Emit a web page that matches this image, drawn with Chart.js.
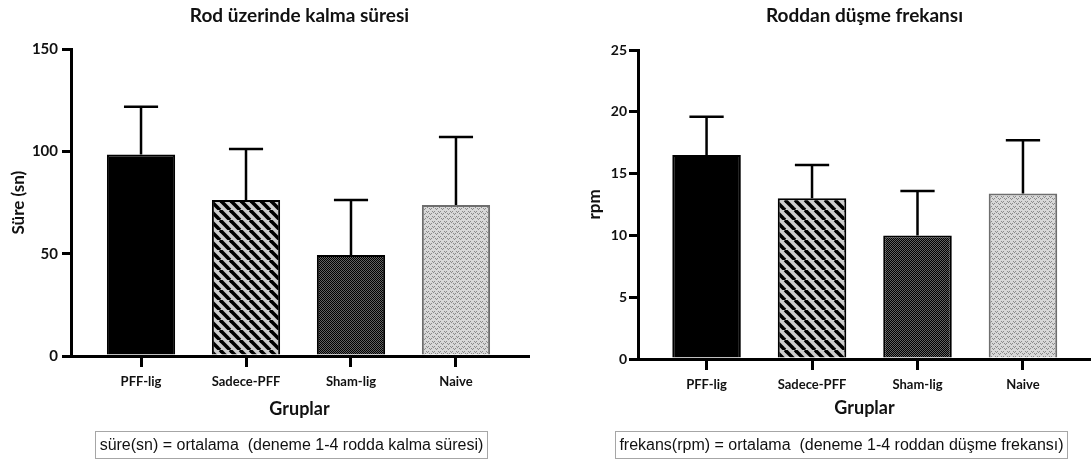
<!DOCTYPE html>
<html lang="tr">
<head>
<meta charset="utf-8">
<title>Rotarod</title>
<script src="https://cdn.jsdelivr.net/npm/chart.js@4.4.1/dist/chart.umd.min.js"></script>
<style>
  html, body { margin: 0; padding: 0; background: #fff; }
  #wrap { position: relative; width: 1091px; height: 460px; overflow: hidden; }
  canvas { position: absolute; top: 0; }
  #c1 { left: 0; }
  #c2 { left: 545px; }
  .note {
    position: absolute; top: 431px; height: 28px; box-sizing: border-box;
    border: 1px solid #a6a6a6; font-family: "Liberation Sans", Arial, sans-serif;
    font-size: 16px; line-height: 26px; color: #111; text-align: center; white-space: pre;
  }
  #n1 { left: 95px; width: 393px; }
  #n2 { left: 615px; width: 453px; }
</style>
</head>
<body>
<div id="wrap">
  <canvas id="c1" width="545" height="460"></canvas>
  <canvas id="c2" width="546" height="460"></canvas>
  <div class="note" id="n1">süre(sn) = ortalama  (deneme 1-4 rodda kalma süresi)</div>
  <div class="note" id="n2">frekans(rpm) = ortalama  (deneme 1-4 roddan düşme frekansı)</div>
</div>
<script>
// Groups
const categories = ['PFF-lig', 'Sadece-PFF', 'Sham-lig', 'Naive'];

// Time on rod (s): mean and SD
const sureMean = [98.6, 76.3, 49.4, 73.8];
const sureSD   = [23.3, 24.9, 26.9, 33.3];

// Fall frequency (rpm): mean and SD
const rpmMean = [16.5, 13.0, 10.0, 13.4];
const rpmSD   = [3.1, 2.7, 3.6, 4.3];

// Y-axis tick values
const sureTicks = [0, 50, 100, 150];
const rpmTicks  = [0, 5, 10, 15, 20, 25];

const INK = '#111';
const FONT = 'Lato, "Open Sans", sans-serif';

// ---- fill patterns ----
function tile(w, h, draw) {
  const c = document.createElement('canvas');
  c.width = w; c.height = h;
  const g = c.getContext('2d');
  draw(g, w, h);
  return g.createPattern(c, 'repeat');
}
const fillSolid = '#000';
const fillStripes = tile(10, 10, (g, w, h) => {
  g.fillStyle = '#cdcdcd';
  g.fillRect(0, 0, w, h);
  g.strokeStyle = '#000';
  g.lineWidth = 3.6;
  for (const o of [-w, 0, w]) {
    g.beginPath();
    g.moveTo(o, 0);
    g.lineTo(o + w, h);
    g.stroke();
  }
});
const fillChecker = tile(2, 2, (g) => {
  g.fillStyle = '#626262';
  g.fillRect(0, 0, 2, 2);
  g.fillStyle = '#000';
  g.fillRect(0, 0, 1, 1);
  g.fillRect(1, 1, 1, 1);
});
const fillDots = tile(6, 5, (g) => {
  g.fillStyle = '#d8d8d8';
  g.fillRect(0, 0, 6, 5);
  g.fillStyle = '#8a8a8a';
  g.fillRect(0, 1, 1, 1);
  g.fillRect(1, 2, 1, 1);
  g.fillRect(2, 1, 1, 1);
  g.fillRect(3, 3, 1, 1);
  g.fillRect(4, 4, 1, 1);
  g.fillRect(5, 3, 1, 1);
});
const barFills   = [fillSolid, fillStripes, fillChecker, fillDots];
const barBorders = ['#000', '#000', '#000', '#6e6e6e'];

// ---- upper error bars, placed through the chart's own scales ----
const errorBars = {
  id: 'errorBars',
  afterDatasetsDraw(chart, args, opts) {
    const { ctx, scales: { y } } = chart;
    const meta = chart.getDatasetMeta(0);
    const means = chart.data.datasets[0].data.map(p => p.y);
    ctx.save();
    ctx.strokeStyle = '#000';
    ctx.lineWidth = 2.5;
    meta.data.forEach((bar, i) => {
      const top = y.getPixelForValue(means[i] + opts.sd[i]);
      const half = bar.width / 4;
      ctx.beginPath();
      ctx.moveTo(bar.x, bar.y);
      ctx.lineTo(bar.x, top);
      ctx.moveTo(bar.x - half, top);
      ctx.lineTo(bar.x + half, top);
      ctx.stroke();
    });
    ctx.restore();
  }
};

function makeChart(id, cfg) {
  const points = cfg.mean.map((v, i) => ({ x: i, y: v }));
  return new Chart(document.getElementById(id), {
    type: 'bar',
    data: {
      datasets: [{
        data: points,
        backgroundColor: barFills,
        borderColor: barBorders,
        borderWidth: 2,
        barPercentage: 0.65,
        categoryPercentage: 1
      }]
    },
    plugins: [errorBars],
    options: {
      responsive: false,
      animation: false,
      devicePixelRatio: 1,
      layout: { padding: { left: 0, top: 0, bottom: 0, right: cfg.padRight } },
      plugins: {
        legend: { display: false },
        tooltip: { enabled: false },
        title: {
          display: true,
          text: cfg.title,
          fullSize: false,
          color: INK,
          font: { family: FONT, size: 19, weight: 'bold' },
          padding: { top: 4, bottom: cfg.titleGap }
        },
        errorBars: { sd: cfg.sd }
      },
      scales: {
        x: {
          type: 'linear',
          offset: false,
          min: cfg.xMin,
          max: cfg.xMax,
          afterBuildTicks: s => { s.ticks = categories.map((_, i) => ({ value: i })); },
          afterFit: s => { s.height = cfg.xHeight; },
          ticks: {
            callback: v => categories[v],
            color: INK,
            font: { family: FONT, size: 13, weight: 'bold' },
            padding: 7,
            maxRotation: 0
          },
          grid: { offset: false, drawOnChartArea: false, drawTicks: true, tickLength: 11, lineWidth: 3, color: '#000' },
          border: { display: true, width: 3, color: '#000' },
          title: {
            display: true,
            text: 'Gruplar',
            color: INK,
            font: { family: FONT, size: 18, weight: 'bold' },
            padding: { top: 0, bottom: cfg.xTitleGap }
          }
        },
        y: {
          min: 0,
          max: cfg.ticks[cfg.ticks.length - 1],
          afterBuildTicks: s => { s.ticks = cfg.ticks.map(v => ({ value: v })); },
          afterFit: s => { s.width = cfg.yWidth; },
          ticks: {
            color: INK,
            font: { family: FONT, size: cfg.yTickSize, weight: 'bold' },
            padding: cfg.yTickPad
          },
          grid: { drawOnChartArea: false, drawTicks: true, tickLength: 9, lineWidth: 3, color: '#000' },
          border: { display: true, width: 3, color: '#000' },
          title: {
            display: true,
            text: cfg.yTitle,
            color: INK,
            font: { family: FONT, size: 17, weight: 'bold' },
            padding: { top: cfg.yTitleGap, bottom: 0 }
          }
        }
      }
    }
  });
}

makeChart('c1', {
  title: 'Rod üzerinde kalma süresi',
  yTitle: 'Süre (sn)',
  mean: sureMean, sd: sureSD, ticks: sureTicks,
  xMin: -0.667, xMax: 3.686, padRight: 17,
  titleGap: 22.5, xHeight: 104, xTitleGap: 40,
  yWidth: 71, yTickSize: 15, yTickPad: 4, yTitleGap: 8
});

makeChart('c2', {
  title: 'Roddan düşme frekansı',
  yTitle: 'rpm',
  mean: rpmMean, sd: rpmSD, ticks: rpmTicks,
  xMin: -0.65, xMax: 3.645, padRight: 0,
  titleGap: 23.2, xHeight: 101, xTitleGap: 41,
  yWidth: 93, yTickSize: 14, yTickPad: 2, yTitleGap: 39
});
</script>
</body>
</html>
